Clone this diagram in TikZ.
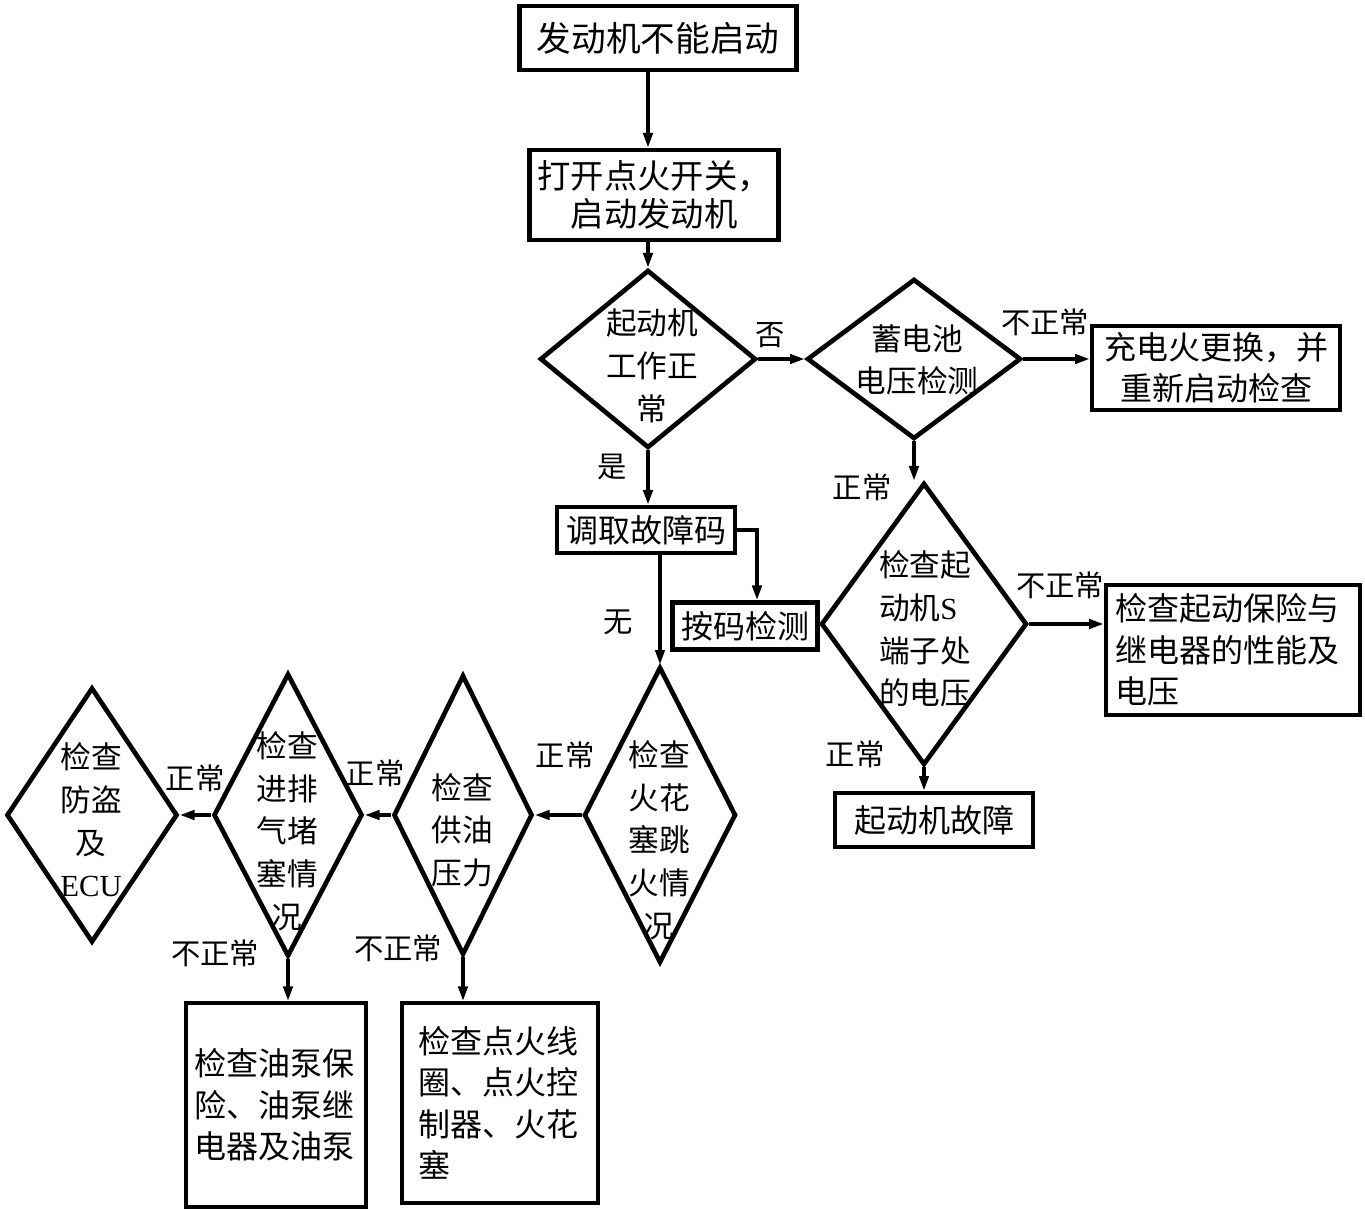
\documentclass[tikz,border=0pt]{standalone}
\usepackage{fontspec}
\setmainfont{Noto Sans CJK SC}
\newfontfamily\latf{Liberation Serif}
\usepackage{tikz}
\usetikzlibrary{positioning,shapes.geometric,arrows.meta}

\tikzset{
  box/.style={draw,line width=3.5pt,inner sep=0pt,align=center,font=\fontsize{24}{31}\selectfont},
  dia/.style={draw,diamond,line width=3.5pt,inner sep=0pt},
  dtext/.style={align=center,inner sep=0pt,font=\fontsize{23}{32}\selectfont},
  lbl/.style={inner sep=0pt,font=\fontsize{22}{26}\selectfont},
  arr/.style={line width=2.5pt,-{Triangle[length=11pt,width=7pt]}}
}

\begin{document}
\begin{tikzpicture}[x=0.75pt,y=0.75pt,yscale=-1,xscale=1]
\useasboundingbox (0,0) rectangle (1365,1212);

% boxes
\node[box,minimum width=207.75pt,minimum height=48pt,font=\fontsize{26}{31}\selectfont] (start) at (658,38) {发动机不能启动};
\node[box,minimum width=186.75pt,minimum height=67.5pt,font=\fontsize{25}{29}\selectfont] (ign) at (654,195) {打开点火开关，\\启动发动机};
\node[box,minimum width=186pt,minimum height=63pt] (charge) at (1216,368) {充电火更换，并\\重新启动检查};
\node[box,minimum width=190.5pt,minimum height=97.5pt,align=left,text width=176pt] (relay) at (1233,650) {检查起动保险与\\继电器的性能及\\电压};
\node[box,minimum width=148.5pt,minimum height=40.5pt] (fault) at (934,820) {起动机故障};
\node[box,minimum width=133.5pt,minimum height=34.5pt] (code) at (646,530) {调取故障码};
\node[box,minimum width=108.75pt,minimum height=35.25pt] (bycode) at (745,626) {按码检测};
\node[box,line width=3pt,minimum width=135pt,minimum height=153pt,align=left,text width=122pt] (pump) at (276,1105) {检查油泵保\\险、油泵继\\电器及油泵\\[10pt]};
\node[box,line width=3pt,minimum width=147pt,minimum height=150pt,align=left,text width=122pt] (coil) at (500,1103) {检查点火线\\圈、点火控\\制器、火花\\塞};

% decisions
\node[dia,minimum width=162pt,minimum height=133.5pt] (starter) at (648,359) {};
\node[dtext] (startert) at (652,366) {起动机\\工作正\\常};
\node[dia,minimum width=160.5pt,minimum height=120pt] (batt) at (914,359) {};
\node[dtext] (battt) at (917,360) {蓄电池\\电压检测};
\node[dia,minimum width=154.5pt,minimum height=211.5pt] (sterm) at (924,624) {};
\node[dtext,align=left] (stermt) at (925,629) {检查起\\动机{\latf S}\\端子处\\的电压};
\node[dia,minimum width=114pt,minimum height=222pt] (spark) at (660,815) {};
\node[dtext] (sparkt) at (659,840) {检查\\火花\\塞跳\\火情\\况};
\node[dia,minimum width=104.25pt,minimum height=210pt] (fuel) at (463,815) {};
\node[dtext] (fuelt) at (462,830) {检查\\供油\\压力};
\node[dia,minimum width=111.75pt,minimum height=212.25pt] (intake) at (288,815) {};
\node[dtext] (intaket) at (287,831) {检查\\进排\\气堵\\塞情\\况};
\node[dia,minimum width=128.25pt,minimum height=191.25pt] (ecu) at (92,815) {};
\node[dtext] (ecut) at (91,820) {检查\\防盗\\及\\{\latf ECU}};

% connectors
\draw[arr] (starter.north |- start.south) -- (starter.north |- ign.north);
\draw[arr] (starter.north |- ign.south) -- (starter.north);
\draw[arr] (starter.east) -- (batt.west);
\draw[arr] (batt.east) -- (batt.east -| charge.west);
\draw[arr] (batt.south) -- (batt.south |- sterm.north);
\draw[arr] (sterm.east) -- (sterm.east -| relay.west);
\draw[arr] (sterm.south) -- (sterm.south |- fault.north);
\draw[arr] (starter.south) -- (starter.south |- code.north);
\draw[arr] (code.east) -| ([xshift=9pt]bycode.north);
\draw[arr] (spark.north |- code.south) -- (spark.north);
\draw[arr] (spark.west) -- (fuel.east);
\draw[arr] (fuel.west) -- (intake.east);
\draw[arr] (intake.west) -- (ecu.east);
\draw[arr] (intake.south) -- (intake.south |- pump.north);
\draw[arr] (fuel.south) -- (fuel.south |- coil.north);

% labels
\node[lbl] (no1) at (770,335) {否};
\node[lbl] (ab1) at (1045,322) {不正常};
\node[lbl] (ok1) at (862,487) {正常};
\node[lbl] (ab2) at (1060,585) {不正常};
\node[lbl] (ok2) at (855,754) {正常};
\node[lbl] (yes1) at (612,467) {是};
\node[lbl] (none1) at (618,622) {无};
\node[lbl] (ok3) at (565,755) {正常};
\node[lbl] (ok4) at (375,773) {正常};
\node[lbl] (ok5) at (195,778) {正常};
\node[lbl] (ab3) at (215,953) {不正常};
\node[lbl] (ab4) at (398,948) {不正常};
\end{tikzpicture}
\end{document}
